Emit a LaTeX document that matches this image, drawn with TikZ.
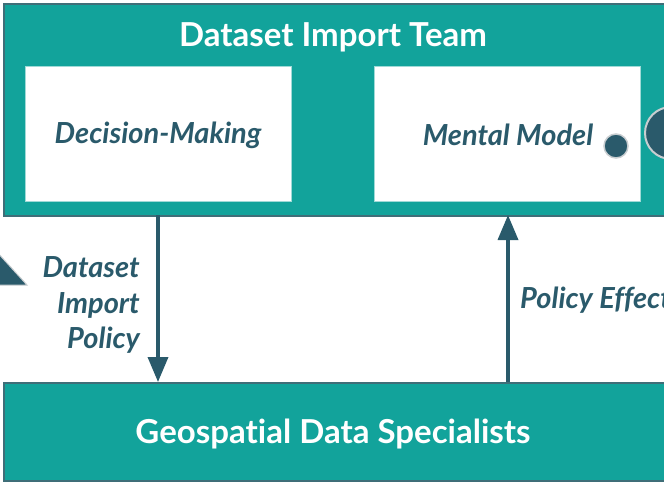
\documentclass[tikz,border=0pt]{standalone}
\usepackage{fontspec}
\setmainfont{Lato}[Ligatures=NoCommon]
\usetikzlibrary{arrows.meta}
\definecolor{teal1}{HTML}{12A39B}
\definecolor{dark1}{HTML}{2A5A6B}
\definecolor{edge1}{HTML}{3F6E78}
\definecolor{ring1}{HTML}{C8CDD0}
\begin{document}
\begin{tikzpicture}[x=1pt,y=-1pt,
  team/.style={fill=teal1,draw=edge1,line width=1.5pt},
  inner/.style={fill=white,draw=teal1!40,line width=1pt},
  conn/.style={draw=dark1,line width=3.5pt,-{Triangle[length=25pt,width=20pt]}},
  lbl/.style={text=dark1,font=\fontsize{29}{35.5}\selectfont\bfseries\itshape},
  ttl/.style={text=white,font=\fontsize{33}{36}\selectfont\bfseries}]
\useasboundingbox (0,0) rectangle (664,482);
\clip (0,0) rectangle (664,482);
\node[team,minimum width=700pt,minimum height=212pt,anchor=north west,inner sep=0pt] (team) at (3,3) {};
\node[ttl] (teamt) at (333,37) {Dataset Import Team};
\node[inner,minimum width=266pt,minimum height=135pt,anchor=north west] (dm) at (25,66) {};
\node[lbl] at (158,135) {Decision-Making};
\node[inner,minimum width=266pt,minimum height=135pt,anchor=north west] (mm) at (374,66) {};
\node[lbl] (mmt) at (508,135) {Mental Model};
\node[circle,fill=dark1,draw=ring1,line width=1.5pt,minimum size=24pt,inner sep=0pt] (c1) at (616,146) {};
\node[circle,fill=dark1,draw=ring1,line width=2pt,minimum size=52pt,inner sep=0pt] (c2) at (671,133) {};
\node[team,minimum width=700pt,minimum height=98pt,anchor=north west,inner sep=0pt] (geo) at (3,382) {};
\node[ttl] (geot) at (333,434) {Geospat\kern0pt ial Data Specialists};
\draw[fill=dark1,draw=ring1,line width=1pt] (-14,240) -- (27,285) -- (-55,285) -- cycle;
\coordinate (a1) at (158,215);
\coordinate (a2) at (158,382);
\coordinate (b1) at (508,382);
\coordinate (b2) at (508,215);
\draw[conn] (a1) -- (a2);
\draw[conn] (b1) -- (b2);
\node[lbl,align=right,anchor=east,inner sep=0pt] (pol) at (140,305) {Dataset\\Import\\Policy};
\node[lbl,anchor=west,inner sep=0pt] (eff) at (520,300) {Policy Effect};
\end{tikzpicture}
\end{document}
